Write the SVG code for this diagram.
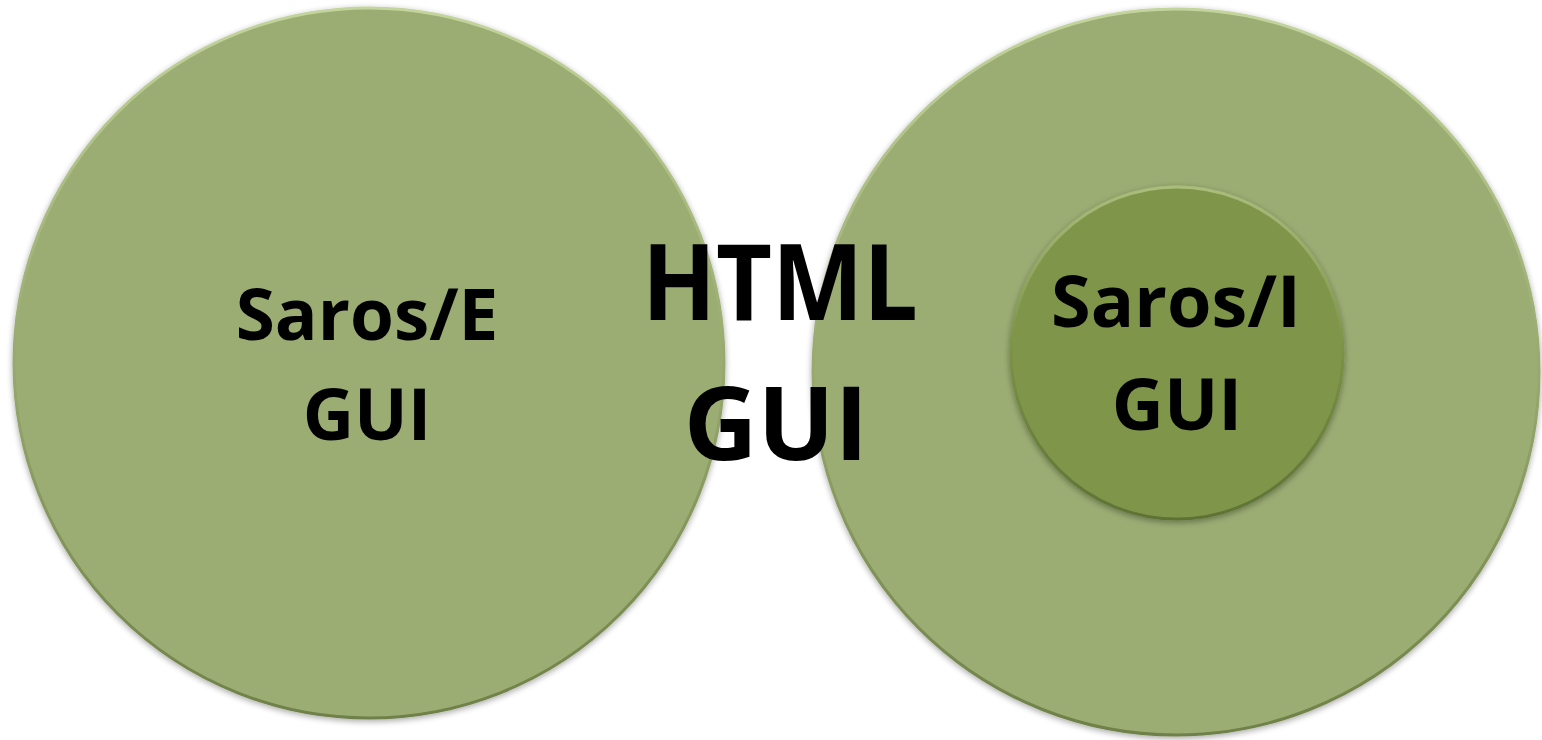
<svg xmlns="http://www.w3.org/2000/svg" width="1542" height="740" viewBox="0 0 1542 740">
<style>
.lbl{font-family:"Open Sans","Liberation Sans",sans-serif;font-weight:bold;fill:#000;text-anchor:middle}
.outer{fill:#9bad73}
.inner{fill:#7f9549}
</style>
<defs>
<linearGradient id="rim" x1="0" y1="0" x2="0" y2="1">
<stop offset="0" stop-color="#c3d49c"/>
<stop offset="0.5" stop-color="#97a96e"/>
<stop offset="1" stop-color="#6f8048"/>
</linearGradient>
<linearGradient id="rim2" x1="0" y1="0" x2="0" y2="1">
<stop offset="0" stop-color="#aabd7c"/>
<stop offset="0.5" stop-color="#7b9146"/>
<stop offset="1" stop-color="#5e7236"/>
</linearGradient>
<filter id="sh" x="-10%" y="-10%" width="120%" height="120%">
<feGaussianBlur in="SourceAlpha" stdDeviation="3"/>
<feOffset dx="0" dy="2" result="b"/>
<feComponentTransfer><feFuncA type="linear" slope="0.35"/></feComponentTransfer>
<feMerge><feMergeNode/><feMergeNode in="SourceGraphic"/></feMerge>
</filter>
</defs>
<rect width="1542" height="740" fill="#fff"/>
<g id="node-saros-e">
<circle class="outer" cx="369" cy="363" r="355" stroke="url(#rim)" stroke-width="3" filter="url(#sh)"/>
<text class="lbl" font-size="71" x="367" y="340">Saros/E</text>
<text class="lbl" font-size="71" x="367" y="440">GUI</text>
</g>
<g id="node-saros-outer">
<circle class="outer" cx="1176" cy="372" r="363" stroke="url(#rim)" stroke-width="3" filter="url(#sh)"/>
</g>
<g id="node-saros-i">
<circle class="inner" cx="1177" cy="353" r="166" stroke="url(#rim2)" stroke-width="3" filter="url(#sh)"/>
<text class="lbl" font-size="72" x="1176" y="327">Saros/I</text>
<text class="lbl" font-size="72" x="1177" y="430">GUI</text>
</g>
<g id="node-html">
<text class="lbl" font-size="105" x="780" y="320" textLength="276" lengthAdjust="spacingAndGlyphs">HTML</text>
<text class="lbl" font-size="102" x="776" y="460">GUI</text>
</g>
<g id="connectors"></g>
</svg>
